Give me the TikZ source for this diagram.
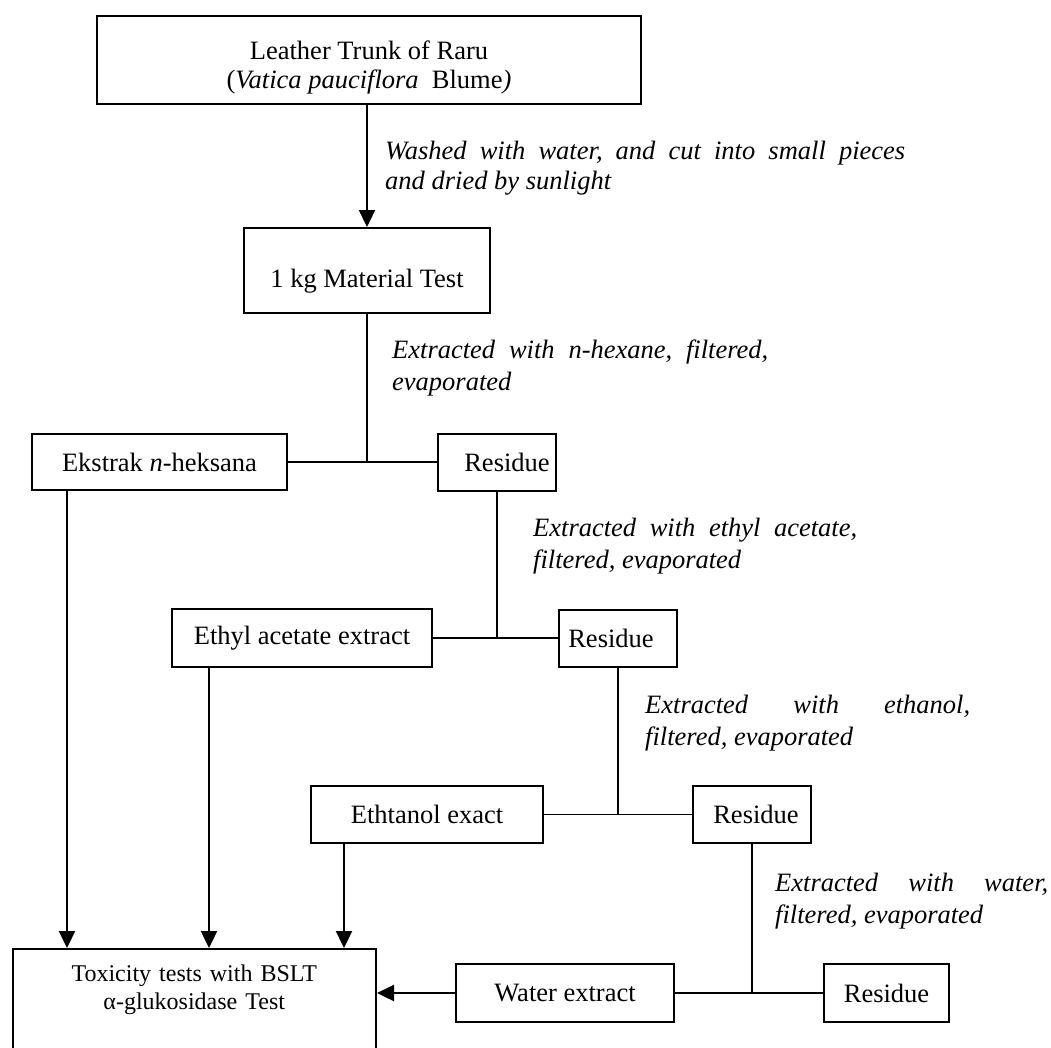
\documentclass[tikz,border=0pt]{standalone}
\usepackage{fontspec}
\setmainfont{Liberation Serif}
\usetikzlibrary{arrows.meta}
\begin{document}
\begin{tikzpicture}[x=1pt,y=-1pt,
  box/.style={draw, line width=2pt, inner sep=0pt, align=center,
    font=\fontsize{26.5}{29}\selectfont},
  lab/.style={anchor=north west, inner sep=0pt, align=justify,
    font=\fontsize{26.5}{32}\selectfont\itshape,
    execute at begin node={\parindent=0pt\hyphenpenalty=10000\exhyphenpenalty=10000\tolerance=10000\frenchspacing\spaceskip=0.25em plus 2em\relax}},
  conn/.style={line width=1.7pt},
  arr/.style={line width=2.3pt, -{Triangle[length=17pt,width=16pt]}},
]
\useasboundingbox (0,0) rectangle (1051,1047);
\clip (0,0) rectangle (1051,1047);

% boxes
\node[box, minimum width=544pt, minimum height=88pt] (top) at (369,60)
  {\rule{0pt}{33pt}Leather Trunk of Raru\\(\textit{Vatica pauciflora}\ \ Blume\textit{)}};
\node[box, minimum width=246pt, minimum height=85pt, text height=40pt] (kg) at (367,270.5) {1 kg Material Test};
\node[box, minimum width=255pt, minimum height=56pt] (ekstrak) at (159.5,462) {Ekstrak \textit{n}-heksana};
\node[box, minimum width=118pt, minimum height=57pt] (res1) at (497,462) {\hspace*{20pt}Residue};
\node[box, minimum width=260pt, minimum height=58pt] (ethyl) at (302,638) {Ethyl acetate extract};
\node[box, minimum width=118pt, minimum height=57pt] (res2) at (618,638) {Residue\hspace*{14pt}};
\node[box, minimum width=232pt, minimum height=57pt] (ethanol) at (427,814.5) {Ethtanol exact};
\node[box, minimum width=118pt, minimum height=57pt] (res3) at (752,814.5) {\hspace*{8pt}Residue};
\node[box, minimum width=218pt, minimum height=58pt] (water) at (565,993) {Water extract};
\node[box, minimum width=125pt, minimum height=58pt] (res4) at (886.5,993) {Residue};
\node[box, anchor=north west, text width=363.5pt, inner xsep=0pt, inner ysep=16pt,
  font=\fontsize{24}{28}\selectfont] (tox) at (11.5,948)
  {Toxicity tests with BSLT\\α-glukosidase Test\rule[-80pt]{0pt}{1pt}};

% labels
\node[lab, text width=520pt, font=\fontsize{26.5}{30}\selectfont\itshape] (washL) at (385,141)
  {Washed with water, and cut into small pieces and dried by sunlight};
\node[lab, text width=376pt] (hexL) at (392,340) {Extracted with n-hexane, filtered, evaporated};
\node[lab, text width=324pt] (ethylL) at (533,518) {Extracted with ethyl acetate, filtered, evaporated};
\node[lab, text width=325pt] (ethanolL) at (645,695) {Extracted with ethanol, filtered, evaporated};
\node[lab, text width=273pt] (waterL) at (775,873) {Extracted with water, filtered, evaporated};

% connectors
\draw[arr] (top.south -| kg.north) -- (kg.north);
\draw[conn] (kg.south) -- (kg.south |- ekstrak.east);
\draw[conn] (ekstrak.east) -- (res1.west);
\draw[conn] (res1.south) -- (res1.south |- ethyl.east);
\draw[conn] (ethyl.east) -- (res2.west);
\draw[conn] (res2.south) -- (res2.south |- ethanol.east);
\draw[conn] (ethanol.east) -- (res3.west);
\draw[conn] (res3.south) -- (res3.south |- water.east);
\draw[conn] (water.east) -- (res4.west);

\coordinate (a1) at ([xshift=36pt]ekstrak.south west);
\coordinate (a2) at ([xshift=38pt]ethyl.south west);
\coordinate (a3) at ([xshift=34pt]ethanol.south west);
\draw[arr] (a1) -- (a1 |- tox.north);
\draw[arr] (a2) -- (a2 |- tox.north);
\draw[arr] (a3) -- (a3 |- tox.north);
\draw[arr] (water.west) -- (tox.east |- water.west);
\end{tikzpicture}
\end{document}
